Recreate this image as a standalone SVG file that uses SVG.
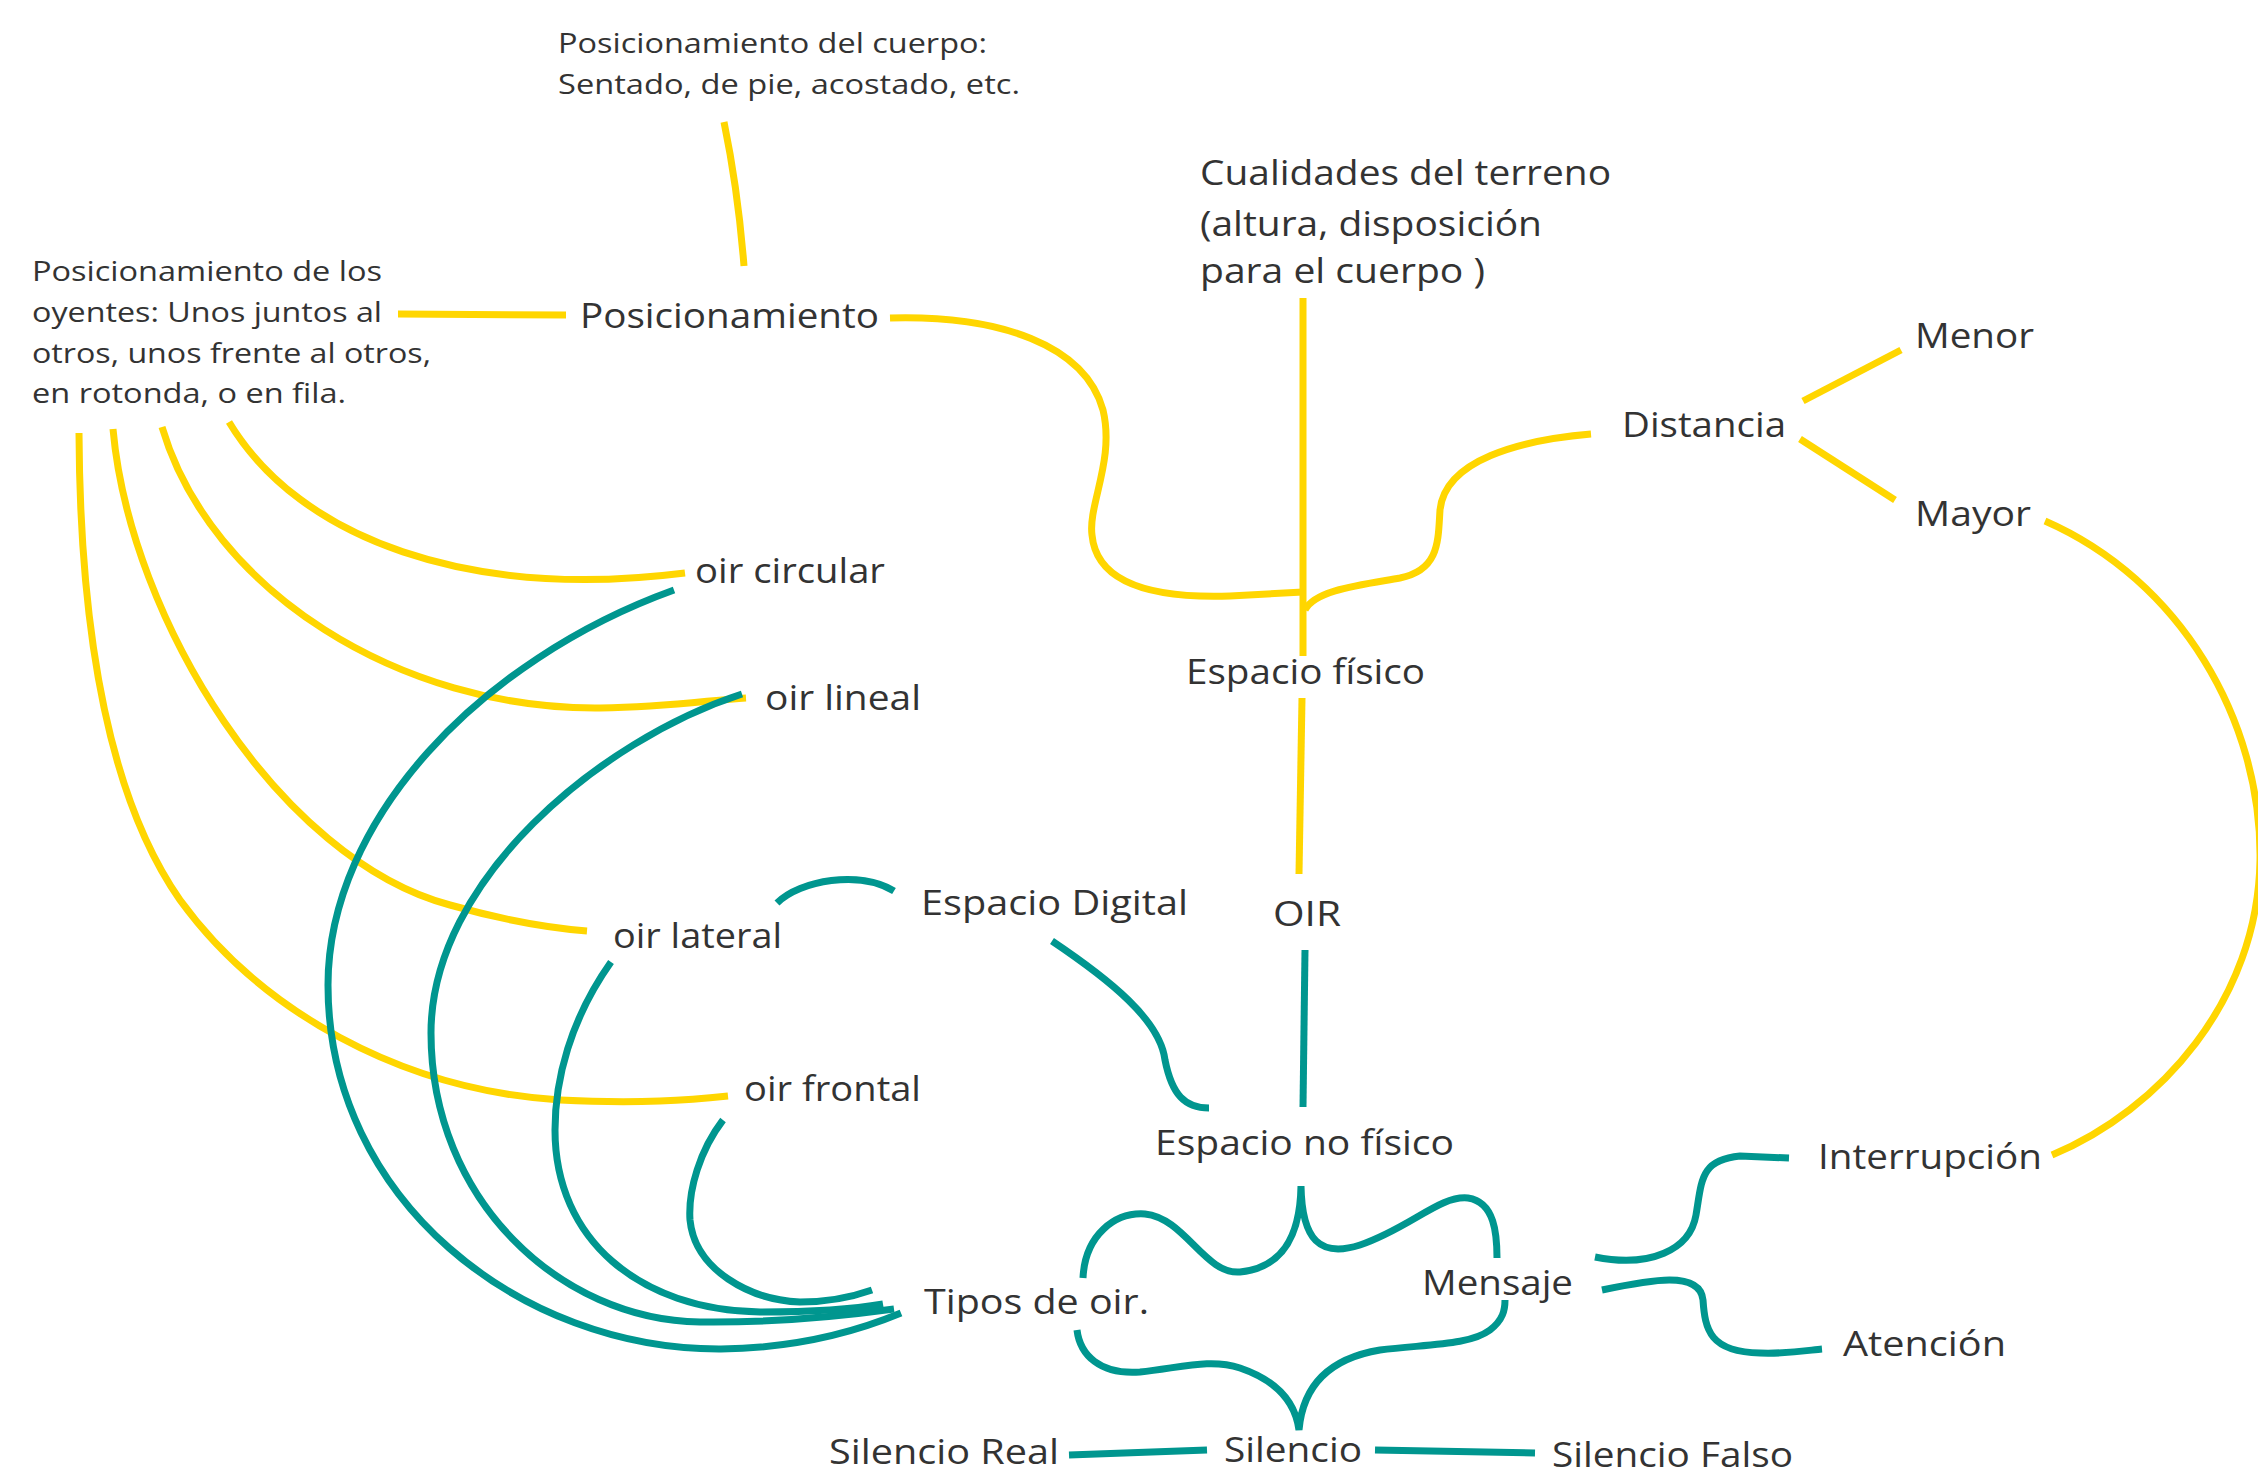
<svg xmlns="http://www.w3.org/2000/svg" width="2258" height="1480" viewBox="0 0 2258 1480">
<style>
  text { font-family: "Open Sans", "Noto Sans", "Liberation Sans", sans-serif; fill: #333333; }
  .s { font-size: 27px; }
  .l { font-size: 35px; }
  .y { fill: none; stroke: #FFD600; stroke-width: 7; stroke-linecap: butt; }
  .t { fill: none; stroke: #00968F; stroke-width: 7; stroke-linecap: butt; }
</style>
<rect width="2258" height="1480" fill="#ffffff"/>
<g id="connectors">
  <path class="y" d="M724,122 Q738,190 744,266"/>
  <path class="y" d="M398,314 L566,315"/>
  <path class="y" d="M890,318 C1000,315 1085,345 1103,410 C1115,460 1088,505 1092,535 C1097,590 1170,598 1230,596 L1303,592"/>
  <path class="y" d="M1303,298 L1303,656"/>
  <path class="y" d="M1302,698 L1299,874"/>
  <path class="y" d="M1305,610 C1315,590 1360,585 1400,578 C1440,570 1438,540 1440,510 C1445,460 1520,440 1591,434"/>
  <path class="y" d="M1803,401 L1901,350"/>
  <path class="y" d="M1800,439 L1895,500"/>
  <path class="y" d="M2045,521 C2180,580 2262,720 2260,860 C2258,1000 2160,1110 2052,1155"/>
  <path class="y" d="M229,422 C300,540 470,600 685,573"/>
  <path class="y" d="M162,427 C210,590 400,710 600,708 C670,707 710,700 746,698"/>
  <path class="y" d="M113,429 C130,620 280,860 450,905 C510,922 550,928 587,931"/>
  <path class="y" d="M79,433 C80,640 110,800 180,900 C260,1010 400,1090 560,1100 C640,1104 690,1100 728,1096"/>

  <path class="t" d="M674,590 C480,660 328,820 328,985 C328,1200 520,1350 721,1349 C800,1348 860,1330 901,1313"/>
  <path class="t" d="M742,694 C600,740 431,880 431,1033 C431,1200 560,1320 700,1322 C780,1323 850,1315 894,1309"/>
  <path class="t" d="M611,962 C570,1020 555,1080 555,1130 C555,1240 640,1310 760,1312 C820,1312 860,1308 883,1304"/>
  <path class="t" d="M723,1120 C700,1150 688,1190 690,1220 C695,1270 750,1300 800,1302 C830,1302 855,1296 872,1290"/>
  <path class="t" d="M777,903 C800,880 860,870 894,891"/>
  <path class="t" d="M1052,941 C1110,980 1160,1020 1165,1060 C1172,1095 1185,1108 1209,1108"/>
  <path class="t" d="M1305,950 L1303,1107"/>
  <path class="t" d="M1083,1278 C1085,1235 1115,1212 1145,1214 C1185,1218 1205,1275 1240,1272 C1280,1268 1300,1240 1301,1186 C1302,1240 1320,1258 1360,1245 C1410,1228 1440,1195 1468,1198 C1495,1202 1497,1235 1497,1258"/>
  <path class="t" d="M1077,1330 C1080,1355 1100,1375 1140,1372 C1180,1368 1210,1358 1240,1368 C1275,1380 1295,1400 1299,1430 C1302,1395 1320,1360 1380,1350 C1430,1344 1470,1345 1490,1330 C1503,1320 1505,1310 1505,1300"/>
  <path class="t" d="M1069,1455 L1207,1450"/>
  <path class="t" d="M1375,1450 L1535,1453"/>
  <path class="t" d="M1595,1257 C1650,1268 1690,1250 1696,1215 C1702,1180 1700,1160 1740,1156 L1789,1158"/>
  <path class="t" d="M1602,1290 C1650,1280 1700,1270 1703,1300 C1705,1330 1710,1352 1760,1353 C1790,1354 1810,1350 1822,1349"/>
</g>
<g id="n-cuerpo"><text class="s" x="558" y="53" textLength="429" lengthAdjust="spacingAndGlyphs">Posicionamiento del cuerpo:</text><text class="s" x="558" y="94" textLength="462" lengthAdjust="spacingAndGlyphs">Sentado, de pie, acostado, etc.</text></g>
<g id="n-oyentes"><text class="s" x="32" y="281" textLength="350" lengthAdjust="spacingAndGlyphs">Posicionamiento de los</text><text class="s" x="32" y="322" textLength="350" lengthAdjust="spacingAndGlyphs">oyentes: Unos juntos al</text><text class="s" x="32" y="363" textLength="399" lengthAdjust="spacingAndGlyphs">otros, unos frente al otros,</text><text class="s" x="32" y="403" textLength="314" lengthAdjust="spacingAndGlyphs">en rotonda, o en fila.</text></g>
<g id="n-posicionamiento"><text class="l" x="580" y="328" textLength="299" lengthAdjust="spacingAndGlyphs">Posicionamiento</text></g>
<g id="n-cualidades"><text class="l" x="1200" y="185" textLength="411" lengthAdjust="spacingAndGlyphs">Cualidades del terreno</text><text class="l" x="1200" y="236" textLength="342" lengthAdjust="spacingAndGlyphs">(altura, disposición</text><text class="l" x="1200" y="283" textLength="285" lengthAdjust="spacingAndGlyphs">para el cuerpo )</text></g>
<g id="n-distancia"><text class="l" x="1622" y="437" textLength="164" lengthAdjust="spacingAndGlyphs">Distancia</text></g>
<g id="n-menor"><text class="l" x="1915" y="348" textLength="119" lengthAdjust="spacingAndGlyphs">Menor</text></g>
<g id="n-mayor"><text class="l" x="1915" y="526" textLength="116" lengthAdjust="spacingAndGlyphs">Mayor</text></g>
<g id="n-circular"><text class="l" x="695" y="583" textLength="190" lengthAdjust="spacingAndGlyphs">oir circular</text></g>
<g id="n-lineal"><text class="l" x="765" y="710" textLength="156" lengthAdjust="spacingAndGlyphs">oir lineal</text></g>
<g id="n-fisico"><text class="l" x="1186" y="684" textLength="239" lengthAdjust="spacingAndGlyphs">Espacio físico</text></g>
<g id="n-lateral"><text class="l" x="613" y="948" textLength="169" lengthAdjust="spacingAndGlyphs">oir lateral</text></g>
<g id="n-digital"><text class="l" x="921" y="915" textLength="267" lengthAdjust="spacingAndGlyphs">Espacio Digital</text></g>
<g id="n-oir"><text class="l" x="1273" y="926" textLength="68" lengthAdjust="spacingAndGlyphs">OIR</text></g>
<g id="n-frontal"><text class="l" x="744" y="1101" textLength="177" lengthAdjust="spacingAndGlyphs">oir frontal</text></g>
<g id="n-nofisico"><text class="l" x="1155" y="1155" textLength="299" lengthAdjust="spacingAndGlyphs">Espacio no físico</text></g>
<g id="n-interrupcion"><text class="l" x="1818" y="1169" textLength="224" lengthAdjust="spacingAndGlyphs">Interrupción</text></g>
<g id="n-tipos"><text class="l" x="924" y="1314" textLength="225" lengthAdjust="spacingAndGlyphs">Tipos de oir.</text></g>
<g id="n-mensaje"><text class="l" x="1422" y="1295" textLength="151" lengthAdjust="spacingAndGlyphs">Mensaje</text></g>
<g id="n-atencion"><text class="l" x="1843" y="1356" textLength="163" lengthAdjust="spacingAndGlyphs">Atención</text></g>
<g id="n-real"><text class="l" x="829" y="1464" textLength="230" lengthAdjust="spacingAndGlyphs">Silencio Real</text></g>
<g id="n-silencio"><text class="l" x="1224" y="1462" textLength="138" lengthAdjust="spacingAndGlyphs">Silencio</text></g>
<g id="n-falso"><text class="l" x="1552" y="1467" textLength="241" lengthAdjust="spacingAndGlyphs">Silencio Falso</text></g>
</svg>
